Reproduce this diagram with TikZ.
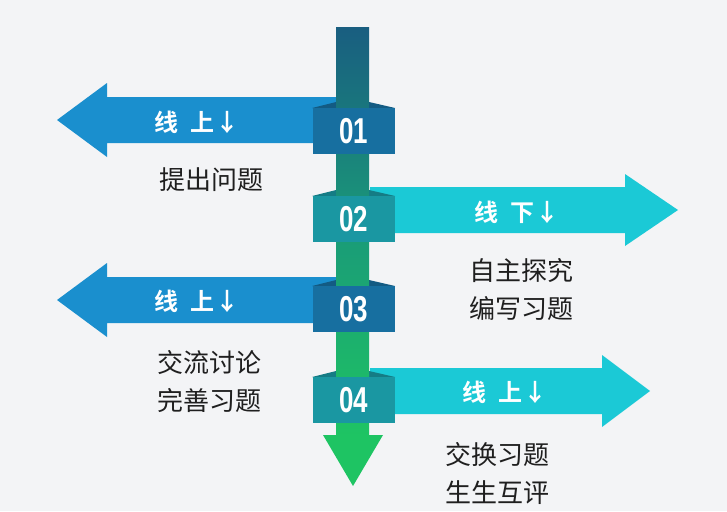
\documentclass[tikz,border=0pt]{standalone}
\usepackage{fontspec}
\setmainfont{Liberation Sans}
\newfontfamily\cjk[BoldFont={Noto Sans CJK SC Bold}]{Noto Sans CJK SC}
\definecolor{bgc}{HTML}{F3F4F6}
\definecolor{blueA}{HTML}{1A8FCE}
\definecolor{cyanA}{HTML}{1BC9D6}
\definecolor{boxB}{HTML}{176FA0}
\definecolor{boxT}{HTML}{1A97A2}
\definecolor{stemtop}{HTML}{195E80}
\definecolor{stemmid}{HTML}{1A9B78}
\definecolor{stembot}{HTML}{1EC463}

\begin{document}
\begin{tikzpicture}[x=1pt,y=-1pt,
  numbox/.style={fill=#1,minimum width=82pt,minimum height=46pt,inner sep=0,text=white,font=\bfseries\fontsize{36}{36}\selectfont},
  tag/.style={text=white,font=\cjk\bfseries\fontsize{24}{24}\selectfont},
  note/.style={text=black!88,align=center,font=\cjk\fontsize{26}{38}\selectfont}]
\fill[bgc] (0,0) rectangle (727,511);
\foreach \c in {120,300}{\fill[blueA] (340,\c-23) -- (107,\c-23) -- (107,\c-37) -- (57,\c) -- (107,\c+37) -- (107,\c+23) -- (340,\c+23) -- cycle;}
\foreach \c/\b/\t in {210/625/678,391/602/650}{\fill[cyanA] (370,\c-23) -- (\b,\c-23) -- (\b,\c-36) -- (\t,\c) -- (\b,\c+36) -- (\b,\c+23) -- (370,\c+23) -- cycle;}
\foreach \y/\col in {131/boxB,219/boxT,309/boxB,400/boxT}{\fill[\col!82!black] (312,\y-23) -- (336,\y-29) -- (369,\y-29) -- (395,\y-23) -- cycle;}
\shade[top color=stemtop,bottom color=stembot,middle color=stemmid] (336,28) rectangle (369,436);
\fill[stembot] (323,435) -- (383,435) -- (353,486) -- cycle;
\foreach \n/\y/\col in {1/131/boxB,2/219/boxT,3/309/boxB,4/400/boxT}{\node[numbox=\col] (box\n) at (353.5,\y) {\scalebox{0.72}[1]{0\n}};}
\node[tag] (tag1) at (197,122) {线\hspace{12pt}上\hspace{1pt}↓};
\node[tag] (tag2) at (517,212) {线\hspace{12pt}下\hspace{1pt}↓};
\node[tag] (tag3) at (197,301) {线\hspace{12pt}上\hspace{1pt}↓};
\node[tag] (tag4) at (505,392) {线\hspace{12pt}上\hspace{1pt}↓};
\node[note] (note1) at (211,180) {提出问题};
\node[note] (note2) at (521,289) {自主探究\\编写习题};
\node[note] (note3) at (209,382) {交流讨论\\完善习题};
\node[note] (note4) at (497,473) {交换习题\\生生互评};
\end{tikzpicture}
\end{document}
